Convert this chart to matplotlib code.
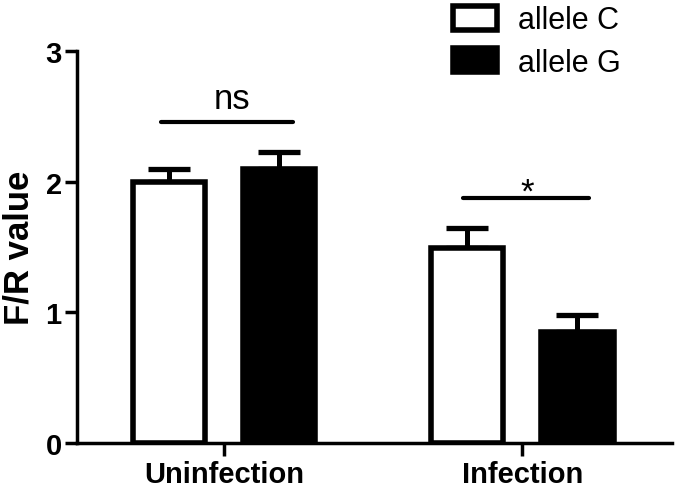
import numpy as np
import matplotlib
matplotlib.use('Agg')
import matplotlib.pyplot as plt
from matplotlib.patches import Patch

# 数据：两组（未感染 / 感染），两个等位基因
groups = ['Uninfection', 'Infection']
series = ['allele C', 'allele G']
allele_c = [2.0, 1.49]
allele_g = [2.10, 0.85]
err_c = [0.10, 0.16]
err_g = [0.13, 0.13]
yticks = [0, 1, 2, 3]

plt.rcParams['font.family'] = ['Liberation Sans', 'DejaVu Sans']

fig = plt.figure(figsize=(6.75, 4.89), dpi=100)
ax = fig.add_axes([0.114, 0.092, 0.882, 0.801])

x = np.arange(len(groups))
offset = 0.185
width = 0.243
lw = 4.0

ax.bar(x - offset, allele_c, width, color='white', edgecolor='black', linewidth=lw, zorder=3)
ax.bar(x + offset, allele_g, width, color='black', edgecolor='black', linewidth=lw, zorder=3)

# 只画上方误差线
for xs, vals, errs in [(x - offset, allele_c, err_c), (x + offset, allele_g, err_g)]:
    ax.errorbar(xs, vals, yerr=[np.zeros(len(errs)), errs], fmt='none', ecolor='black',
                elinewidth=3.6, capsize=15, capthick=3.8, zorder=2)

# 显著性标记
ax.plot([-0.212, 0.230], [2.456, 2.456], color='black', lw=3, solid_capstyle='round')
ax.text(0.027, 2.51, 'ns', ha='center', va='bottom', fontsize=25)
ax.plot([0.802, 1.225], [1.876, 1.876], color='black', lw=3, solid_capstyle='round')
ax.text(1.016, 1.92, '*', ha='center', va='center', fontsize=25)

ax.set_xlim(-0.493, 1.503)
ax.set_ylim(0, 3)
ax.set_yticks(yticks)
ax.set_yticklabels([str(v) for v in yticks], fontsize=21, fontweight='bold')
ax.set_xticks(x)
ax.set_xticklabels(groups, fontsize=21, fontweight='bold')
ax.set_ylabel('F/R value', fontsize=25, fontweight='bold', labelpad=7)

for side in ['top', 'right']:
    ax.spines[side].set_visible(False)
for side in ['left', 'bottom']:
    ax.spines[side].set_linewidth(2.5)
ax.tick_params(axis='both', width=2.5, length=9, pad=2)
ax.tick_params(axis='x', pad=3)

handles = [Patch(facecolor='white', edgecolor='black', linewidth=lw),
           Patch(facecolor='black', edgecolor='black', linewidth=lw)]
fig.legend(handles, series, loc='upper left', bbox_to_anchor=(0.63, 1.043),
           frameon=False, fontsize=22, handlelength=1.45, handleheight=0.8,
           handletextpad=0.7, labelspacing=0.4)

fig.savefig('out.png', dpi=100)
